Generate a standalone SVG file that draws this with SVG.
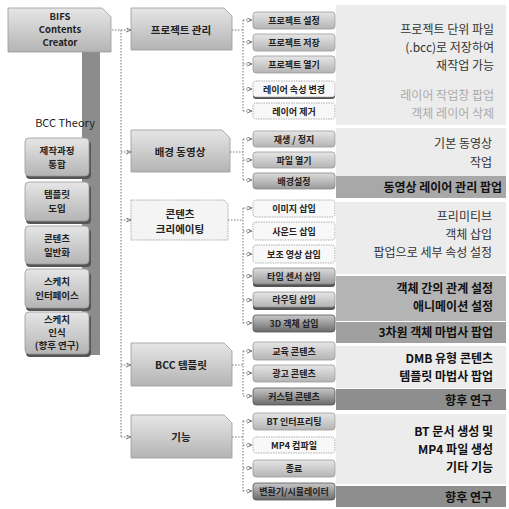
<svg xmlns="http://www.w3.org/2000/svg" width="509" height="509" viewBox="0 0 509 509">
<defs>
<linearGradient id="gBox" x1="0" y1="0" x2="0" y2="1"><stop offset="0" stop-color="#e6e6e6"/><stop offset="1" stop-color="#b4b4b4"/></linearGradient>
<linearGradient id="gDark" x1="0" y1="0" x2="0" y2="1"><stop offset="0" stop-color="#c8c8c8"/><stop offset="1" stop-color="#6a6a6a"/></linearGradient>
<linearGradient id="gMid" x1="0" y1="0" x2="0" y2="1"><stop offset="0" stop-color="#dcdcdc"/><stop offset="1" stop-color="#9a9a9a"/></linearGradient>
<marker id="ar" viewBox="0 0 6 6" refX="6" refY="3" markerWidth="5" markerHeight="5" orient="auto"><path d="M0,0.5 L6,3 L0,5.5" fill="none" stroke="#666" stroke-width="1"/></marker>
<style>
text{font-family:"Noto Sans CJK KR","Noto Sans",sans-serif;fill:#222}
.lnk{fill:none;stroke:#777;stroke-width:1;stroke-dasharray:1.5 1.5}
.arr{fill:none;stroke:#777;stroke-width:1;stroke-dasharray:1.5 1.5;marker-end:url(#ar)}
.b{fill:url(#gBox);stroke:#9a9a9a;stroke-width:0.8}
.bw{fill:#f8f8f8;stroke:#999;stroke-width:0.8;stroke-dasharray:1.5 1}
.bm{fill:url(#gMid);stroke:#888;stroke-width:0.8}
.bd{fill:url(#gDark);stroke:#555;stroke-width:0.8}
.sh{fill:#555}
.t3{font-size:9px;font-weight:700;text-anchor:middle}
.t2{font-size:10.5px;font-weight:700;text-anchor:middle}
.tl{font-size:9.5px;font-weight:700;text-anchor:middle}
.d{font-size:12px;text-anchor:end;fill:#333}
.dl{font-size:12px;text-anchor:end;fill:#aaa}
.db{font-size:12px;font-weight:700;text-anchor:end;fill:#111}
.pan{fill:#ececec}
</style>
</defs>
<rect width="509" height="509" fill="#ffffff"/>
<g id="panels">
<rect class="pan" x="336" y="5" width="170" height="120"/>
<rect class="pan" x="336" y="128" width="170" height="48"/>
<rect x="336" y="176" width="170" height="22" fill="#a8a8a8"/>
<rect class="pan" x="336" y="202" width="170" height="72"/>
<rect x="336" y="276" width="170" height="45" fill="#b4b4b4"/>
<rect x="336" y="322" width="170" height="21" fill="#a0a0a0"/>
<rect class="pan" x="336" y="346" width="170" height="42"/>
<rect x="336" y="389" width="170" height="21" fill="#8e8e8e"/>
<rect class="pan" x="336" y="414" width="170" height="70"/>
<rect x="336" y="486" width="170" height="21" fill="#8e8e8e"/>
</g>
<rect x="82" y="50" width="18" height="305" fill="#8c8c8c"/>
<g id="connectors">
<path class="lnk" d="M112,30 H121 V437"/>
<path class="arr" d="M121,30 H131"/>
<path class="arr" d="M121,152 H131"/>
<path class="arr" d="M121,220 H131"/>
<path class="arr" d="M121,365 H131"/>
<path class="arr" d="M121,437 H131"/>
<path class="lnk" d="M232,30 H243 M243,20 V111"/>
<path class="arr" d="M243,20 H252"/><path class="arr" d="M243,42 H252"/><path class="arr" d="M243,64 H252"/><path class="arr" d="M243,89 H252"/><path class="arr" d="M243,111 H252"/>
<path class="lnk" d="M230,152 H243 M243,139 V180"/>
<path class="arr" d="M243,139 H252"/><path class="arr" d="M243,160 H252"/><path class="arr" d="M243,180 H252"/>
<path class="lnk" d="M228,220 H243 M243,208 V323"/>
<path class="arr" d="M243,208 H252"/><path class="arr" d="M243,231 H252"/><path class="arr" d="M243,254 H252"/><path class="arr" d="M243,276 H252"/><path class="arr" d="M243,300 H252"/><path class="arr" d="M243,323 H252"/>
<path class="lnk" d="M232,365 H243 M243,351 V396"/>
<path class="arr" d="M243,351 H252"/><path class="arr" d="M243,373 H252"/><path class="arr" d="M243,396 H252"/>
<path class="lnk" d="M232,437 H243 M243,421 V491"/>
<path class="arr" d="M243,421 H252"/><path class="arr" d="M243,445 H252"/><path class="arr" d="M243,468 H252"/><path class="arr" d="M243,491 H252"/>
</g>
<g id="root">
<path d="M8,8 H102 L111,17 V52 H8 Z" fill="url(#gBox)" stroke="#999" stroke-width="0.8"/>
<text class="tl" x="60" y="20" font-size="8.5">BIFS</text>
<text class="tl" x="60" y="33" font-size="8.5">Contents</text>
<text class="tl" x="60" y="46" font-size="8.5">Creator</text>
</g>
<g id="theory">
<text x="65" y="127" font-size="11" text-anchor="middle" fill="#333">BCC Theory</text>
<g id="t1"><rect class="sh" x="26" y="141" width="65" height="38" rx="4"/><rect class="b" x="25" y="138" width="64" height="38" rx="4"/><text class="tl" x="57" y="154">제작과정</text><text class="tl" x="57" y="168">통합</text></g>
<g id="t2"><rect class="sh" x="26" y="185" width="65" height="39" rx="4"/><rect class="b" x="25" y="182" width="64" height="39" rx="4"/><text class="tl" x="57" y="198">템플릿</text><text class="tl" x="57" y="212">도입</text></g>
<g id="t3"><rect class="sh" x="26" y="229" width="65" height="38" rx="4"/><rect class="b" x="25" y="226" width="64" height="38" rx="4"/><text class="tl" x="57" y="242">콘텐츠</text><text class="tl" x="57" y="256">일반화</text></g>
<g id="t4"><rect class="sh" x="26" y="272" width="65" height="39" rx="4"/><rect class="b" x="25" y="269" width="64" height="39" rx="4"/><text class="tl" x="57" y="285">스케치</text><text class="tl" x="57" y="299">인터페이스</text></g>
<g id="t5"><rect class="sh" x="26" y="315" width="65" height="42" rx="4"/><rect class="b" x="25" y="312" width="64" height="42" rx="4"/><text class="tl" x="57" y="322.5" font-size="7.5">스케치</text><text class="tl" x="57" y="335.5" font-size="7.5">인식</text><text class="tl" x="57" y="348.5" font-size="7.5">(향후 연구)</text></g>
</g>
<g id="n-project"><path d="M131,8 H224 L232,16 V50 H131 Z" fill="url(#gBox)" stroke="#999" stroke-width="0.8"/><text class="t2" x="181" y="34">프로젝트 관리</text></g>
<g id="n-video"><path d="M131,130 H222 L230,138 V172 H131 Z" fill="url(#gBox)" stroke="#999" stroke-width="0.8"/><text class="t2" x="180" y="156">배경 동영상</text></g>
<g id="n-content"><path d="M131,200 H224 L228,204 V240 H131 Z" fill="#f4f4f4" stroke="#999" stroke-width="0.8" stroke-dasharray="1.5 1"/><text class="t2" x="180" y="218">콘텐츠</text><text class="t2" x="180" y="233">크리에이팅</text></g>
<g id="n-template"><path d="M131,343 H224 L232,351 V386 H131 Z" fill="url(#gBox)" stroke="#999" stroke-width="0.8"/><text class="t2" x="181" y="369">BCC 템플릿</text></g>
<g id="n-func"><path d="M131,415 H224 L232,423 V458 H131 Z" fill="url(#gBox)" stroke="#999" stroke-width="0.8"/><text class="t2" x="181" y="441">기능</text></g>
<g id="c1"><rect class="b" x="253" y="12" width="82" height="17" rx="3"/><text class="t3" x="294" y="24">프로젝트 설정</text></g>
<g id="c2"><rect class="b" x="253" y="34" width="82" height="17" rx="3"/><text class="t3" x="294" y="46">프로젝트 저장</text></g>
<g id="c3"><rect class="b" x="253" y="56" width="82" height="17" rx="3"/><text class="t3" x="294" y="68">프로젝트 열기</text></g>
<g id="c4"><rect class="sh" x="253" y="83" width="82" height="16" rx="3"/><rect class="bw" x="253" y="81" width="82" height="16" rx="3"/><text class="t3" x="294" y="93">레이어 속성 변경</text></g>
<g id="c5"><rect class="bw" x="253" y="103" width="82" height="16" rx="3"/><text class="t3" x="294" y="115">레이어 제거</text></g>
<g id="c6"><rect class="b" x="253" y="131" width="82" height="16" rx="3"/><text class="t3" x="294" y="143">재생 / 정지</text></g>
<g id="c7"><rect class="b" x="253" y="152" width="82" height="16" rx="3"/><text class="t3" x="294" y="164">파일 열기</text></g>
<g id="c8"><rect class="bm" x="253" y="173" width="82" height="16" rx="3"/><text class="t3" x="294" y="185">배경설정</text></g>
<g id="c9"><rect class="bw" x="253" y="200" width="82" height="17" rx="3"/><text class="t3" x="294" y="212">이미지 삽입</text></g>
<g id="c10"><rect class="bw" x="253" y="222" width="82" height="18" rx="3"/><text class="t3" x="294" y="235">사운드 삽입</text></g>
<g id="c11"><rect class="bw" x="253" y="245" width="82" height="18" rx="3"/><text class="t3" x="294" y="258">보조 영상 삽입</text></g>
<g id="c12"><rect class="sh" x="253" y="270" width="82" height="17" rx="3"/><rect class="bm" x="253" y="268" width="82" height="16" rx="3"/><text class="t3" x="294" y="280">타임 센서 삽입</text></g>
<g id="c13"><rect class="sh" x="253" y="294" width="82" height="16" rx="3"/><rect class="b" x="253" y="292" width="82" height="15" rx="3"/><text class="t3" x="294" y="303">라우팅 삽입</text></g>
<g id="c14"><rect class="bd" x="253" y="315" width="82" height="17" rx="3"/><text class="t3" x="294" y="327">3D 객체 삽입</text></g>
<g id="c15"><rect class="b" x="253" y="342" width="82" height="18" rx="3"/><text class="t3" x="294" y="355">교육 콘텐츠</text></g>
<g id="c16"><rect class="b" x="253" y="365" width="82" height="17" rx="3"/><text class="t3" x="294" y="377">광고 콘텐츠</text></g>
<g id="c17"><rect class="bd" x="253" y="388" width="82" height="17" rx="3"/><text class="t3" x="294" y="400" fill="#111">커스텀 콘텐츠</text></g>
<g id="c18"><rect class="b" x="253" y="413" width="82" height="17" rx="3"/><text class="t3" x="294" y="425">BT 인터프리팅</text></g>
<g id="c19"><rect class="bw" x="253" y="437" width="82" height="16" rx="3"/><text class="t3" x="294" y="449">MP4 컴파일</text></g>
<g id="c20"><rect class="b" x="253" y="460" width="82" height="17" rx="3"/><text class="t3" x="294" y="472">종료</text></g>
<g id="c21"><rect class="bd" x="253" y="483" width="82" height="17" rx="3"/><text class="t3" x="294" y="495" fill="#111">변환기/시뮬레이터</text></g>
<g id="desc">
<text class="d" x="494" y="34">프로젝트 단위 파일</text>
<text class="d" x="494" y="52">(.bcc)로 저장하여</text>
<text class="d" x="494" y="70">재작업 가능</text>
<text class="dl" x="494" y="100">레이어 작업창 팝업</text>
<text class="dl" x="494" y="118">객체 레이어 삭제</text>
<text class="d" x="492" y="148">기본 동영상</text>
<text class="d" x="492" y="167">작업</text>
<text class="db" x="502" y="192">동영상 레이어 관리 팝업</text>
<text class="d" x="492" y="221">프리미티브</text>
<text class="d" x="492" y="239">객체 삽입</text>
<text class="d" x="492" y="257">팝업으로 세부 속성 설정</text>
<text class="db" x="493" y="293">객체 간의 관계 설정</text>
<text class="db" x="493" y="311">애니메이션 설정</text>
<text class="db" x="493" y="337">3차원 객체 마법사 팝업</text>
<text class="db" x="493" y="363">DMB 유형 콘텐츠</text>
<text class="db" x="493" y="381">템플릿 마법사 팝업</text>
<text class="db" x="492" y="405">향후 연구</text>
<text class="db" x="493" y="436">BT 문서 생성 및</text>
<text class="db" x="493" y="454">MP4 파일 생성</text>
<text class="db" x="493" y="472">기타 기능</text>
<text class="db" x="492" y="502">향후 연구</text>
</g>
</svg>
